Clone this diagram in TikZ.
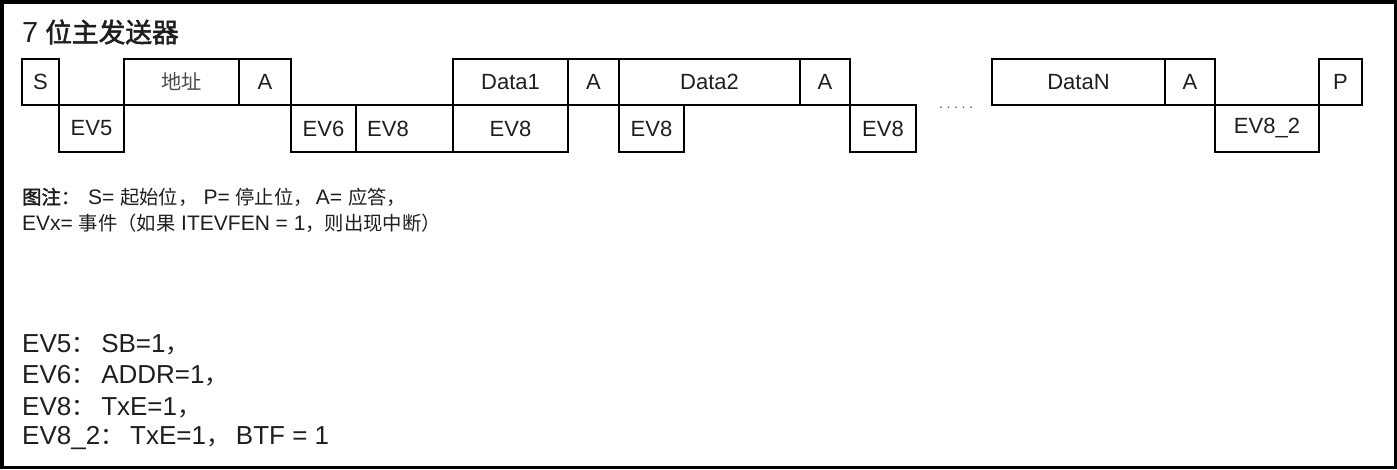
\documentclass[tikz,border=0pt]{standalone}
\usepackage{fontspec}
\setmainfont{Liberation Sans}
\newfontfamily\cjk[Scale=0.92]{Noto Sans CJK SC}
\newfontfamily\cjkb[Scale=0.92,FakeBold=2]{Noto Sans CJK SC}
\newcommand\zh[1]{{\cjk #1}}
\newcommand\zhb[1]{{\cjkb #1}}
\definecolor{ink}{HTML}{1E1E1E}
\begin{document}
\begin{tikzpicture}[x=1pt,y=-1pt,
  cell/.style={draw=black,line width=1.8pt,inner sep=0pt,text=ink,
    font=\fontsize{22}{26}\selectfont},
  toprow/.style={cell,minimum height=46pt},
  botrow/.style={cell,minimum height=47pt},
  txt/.style={anchor=west,inner sep=0pt,text=ink,font=\fontsize{21}{25}\selectfont},
  evtxt/.style={txt,font=\fontsize{26}{30}\selectfont}]
\useasboundingbox (0,0) rectangle (1397,469);
\draw[line width=3.5pt] (1.75,1.75) rectangle (1395.25,467.25);
% title
\node[txt,font=\fontsize{29}{33}\selectfont] (title) at (22,32) {7\kern7pt\zhb{位主发送器}};
% top row
\node[toprow,minimum width=37pt] (s) at (40.5,82) {S};
\node[toprow,minimum width=115pt] (addr) at (181.5,82) {\zh{\color{ink!80}地址}};
\node[toprow,minimum width=52pt] (a1) at (265,82) {A};
\node[toprow,minimum width=115pt] (d1) at (510.5,82) {Data1};
\node[toprow,minimum width=51pt] (a2) at (593.5,82) {A};
\node[toprow,minimum width=181pt] (d2) at (709.5,82) {Data2};
\node[toprow,minimum width=50pt] (a3) at (825,82) {A};
\node[toprow,minimum width=173pt] (dn) at (1078.5,82) {DataN};
\node[toprow,minimum width=50pt] (a4) at (1190,82) {A};
\node[toprow,minimum width=43pt] (p) at (1340.5,82) {P};
% bottom row
\node[botrow,minimum width=65pt] (ev5) at (91.5,128.5) {EV5};
\node[botrow,minimum width=65pt] (ev6) at (323.5,128.5) {EV6};
\node[botrow,minimum width=97pt] (ev8a) at (404.5,128.5) {};
\node[cell,draw=none] (ev8at) at (388,128.5) {EV8};
\node[botrow,minimum width=115pt] (ev8b) at (510.5,128.5) {EV8};
\node[botrow,minimum width=65pt] (ev8c) at (651.5,128.5) {EV8};
\node[botrow,minimum width=66pt] (ev8d) at (883,128.5) {EV8};
\node[botrow,minimum width=104pt] (ev82) at (1267,128.5) {EV8\_2};
\node[inner sep=0pt,text=ink!75,font=\fontsize{14}{16}\selectfont] (dots) at (956,108)
  {.\kern3.6pt.\kern3.6pt.\kern3.6pt.\kern3.6pt.};
% legend
\node[txt] (leg1) at (22,197) {\zhb{图注：}\kern8pt S= \zh{起始位，}\kern6pt P= \zh{停止位，}\kern3pt A= \zh{应答，}};
\node[txt] (leg2) at (22,223) {EVx= \zh{事件（如果} ITEVFEN = 1\zh{，则出现中断）}};
% events
\node[evtxt] (e5) at (22,345) {EV5\zh{：}\kern6pt SB=1\zh{，}};
\node[evtxt] (e6) at (22,376) {EV6\zh{：}\kern6pt ADDR=1\zh{，}};
\node[evtxt] (e8) at (22,408) {EV8\zh{：}\kern6pt TxE=1\zh{，}};
\node[evtxt] (e82) at (22,438) {EV8\_2\zh{：}\kern6pt TxE=1\zh{，}\kern6pt BTF = 1};
\end{tikzpicture}
\end{document}
